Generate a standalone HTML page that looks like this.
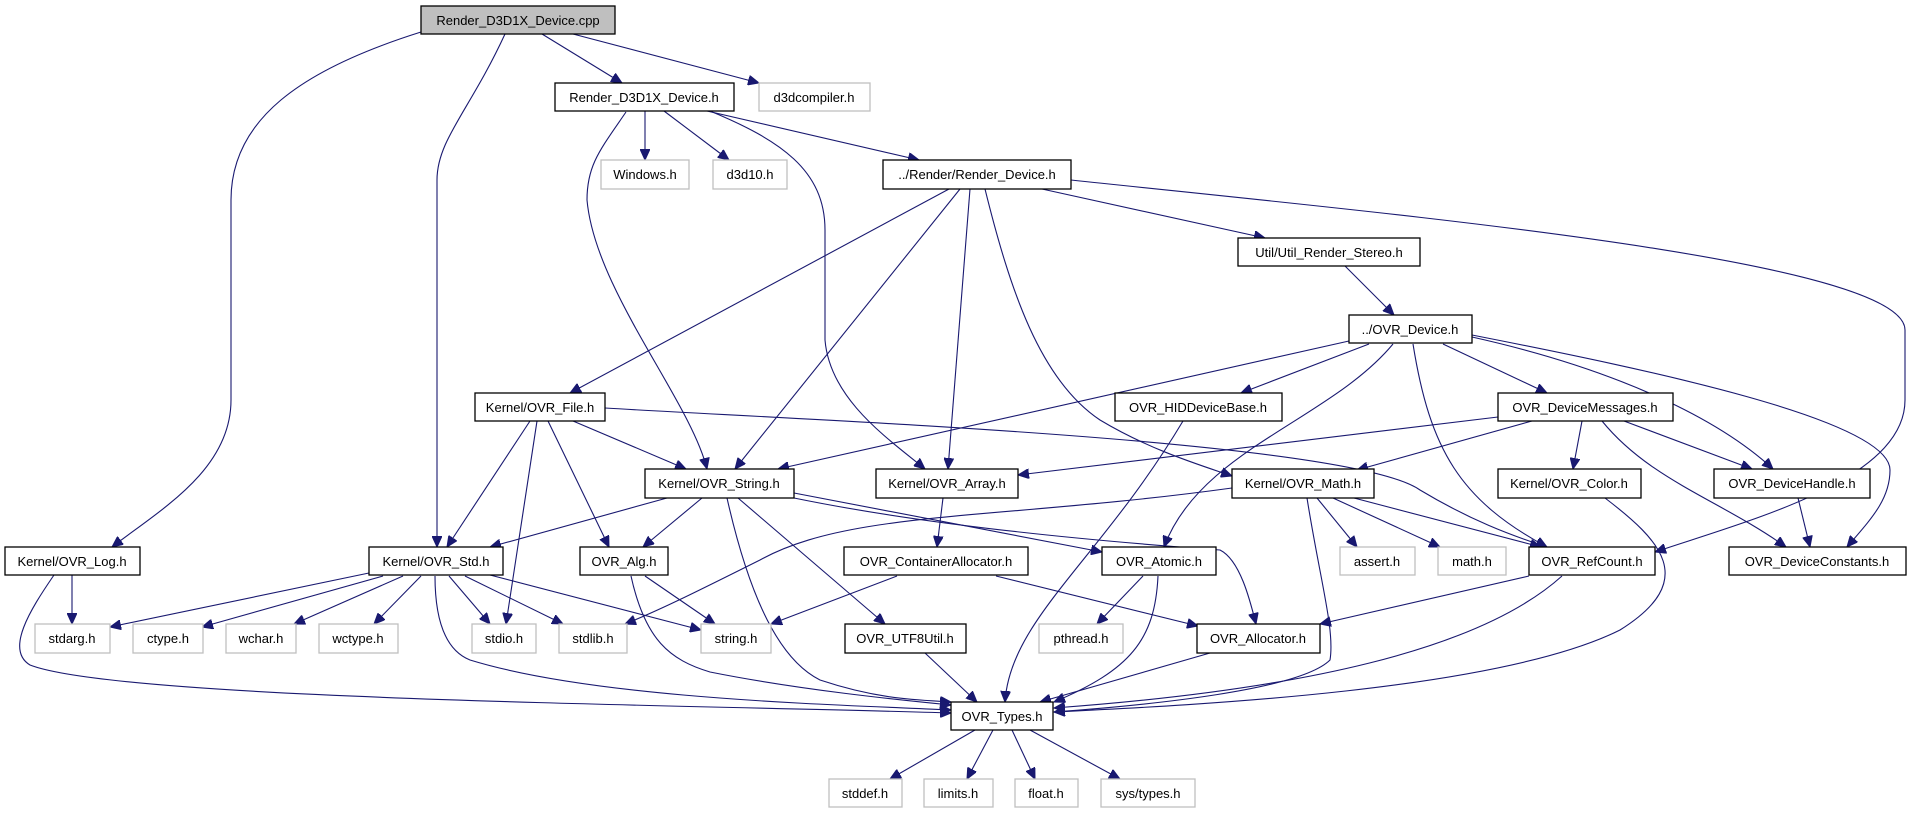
<!DOCTYPE html>
<html><head><meta charset="utf-8"><style>
html,body{margin:0;padding:0;background:#fff;}
svg{display:block;}
text{font-family:"Liberation Sans",sans-serif;font-size:13px;text-anchor:middle;fill:#000;}
.e{fill:none;stroke:#191970;stroke-width:1.1;marker-end:url(#a);}
.n{fill:#fff;stroke:#000;stroke-width:1.3;}
.g{fill:#fff;stroke:#bfbfbf;stroke-width:1.3;}
</style></head><body>
<svg width="1913" height="813" viewBox="0 0 1913 813" xmlns="http://www.w3.org/2000/svg">
<defs><marker id="a" markerUnits="userSpaceOnUse" markerWidth="12" markerHeight="10" refX="11" refY="5" orient="auto"><path d="M0,0 L11,5 L0,10 z" fill="#191970" stroke="#191970"/></marker></defs>
<g>
<path class="e" d="M421,32 C300,70 231,120 231,200 L231,400 C231,470 160,510 112,547"/>
<path class="e" d="M505,34 C470,110 437,140 437,180 L437,547"/>
<path class="e" d="M542,34 L622,83"/>
<path class="e" d="M573,34 L759,83"/>
<path class="e" d="M645,111 L645,160"/>
<path class="e" d="M664,111 L729,160"/>
<path class="e" d="M707,111 L919,160"/>
<path class="e" d="M626,112 C600,150 587,165 587,200 C595,290 690,400 707,469"/>
<path class="e" d="M710,111 C780,140 825,170 825,230 L825,340 C830,400 890,440 925,469"/>
<path class="e" d="M949,189 L570,393"/>
<path class="e" d="M960,189 L735,469"/>
<path class="e" d="M970,189 L948,469"/>
<path class="e" d="M985,189 C1010,290 1040,380 1100,420 C1150,450 1200,465 1232,476"/>
<path class="e" d="M1042,189 L1265,238"/>
<path class="e" d="M1071,180 C1400,215 1905,260 1905,330 L1905,400 C1905,480 1750,520 1655,552"/>
<path class="e" d="M1345,266 L1394,315"/>
<path class="e" d="M1349,341 L778,469"/>
<path class="e" d="M1369,344 L1241,393"/>
<path class="e" d="M1393,344 C1330,420 1200,450 1164,547"/>
<path class="e" d="M1413,344 C1430,450 1460,500 1547,547"/>
<path class="e" d="M1443,344 L1547,393"/>
<path class="e" d="M1472,337 C1620,370 1720,420 1773,469"/>
<path class="e" d="M1472,335 C1650,370 1890,420 1890,470 C1890,500 1870,520 1847,547"/>
<path class="e" d="M530,421 L447,547"/>
<path class="e" d="M537,421 L506,624"/>
<path class="e" d="M548,421 L609,547"/>
<path class="e" d="M573,421 L686,469"/>
<path class="e" d="M605,408 C800,420 1350,440 1420,490 C1470,520 1510,535 1547,547"/>
<path class="e" d="M1183,421 C1100,560 1010,620 1005,702"/>
<path class="e" d="M1498,417 L1018,475"/>
<path class="e" d="M1532,421 L1357,470"/>
<path class="e" d="M1582,421 L1573,469"/>
<path class="e" d="M1624,421 L1752,469"/>
<path class="e" d="M1602,421 C1650,480 1720,500 1786,547"/>
<path class="e" d="M667,498 L490,547"/>
<path class="e" d="M702,498 L643,547"/>
<path class="e" d="M727,498 C750,600 780,660 820,680 C880,700 920,700 951,702"/>
<path class="e" d="M738,498 L885,624"/>
<path class="e" d="M794,493 L1102,552"/>
<path class="e" d="M794,498 C950,530 1150,545 1220,550 C1240,560 1250,600 1256,624"/>
<path class="e" d="M943,498 L937,547"/>
<path class="e" d="M1232,488 C1000,520 850,510 760,560 C700,590 660,610 625,624"/>
<path class="e" d="M1317,498 L1357,547"/>
<path class="e" d="M1333,498 L1440,547"/>
<path class="e" d="M1354,498 L1541,547"/>
<path class="e" d="M1307,498 C1320,580 1335,630 1330,660 C1300,690 1150,705 1054,712"/>
<path class="e" d="M1605,498 C1660,540 1700,580 1620,630 C1500,690 1200,705 1054,712"/>
<path class="e" d="M1798,498 L1810,547"/>
<path class="e" d="M72,575 L72,624"/>
<path class="e" d="M54,575 C30,610 5,650 30,665 C120,700 700,705 951,713"/>
<path class="e" d="M369,573 L110,627"/>
<path class="e" d="M383,576 L202,627"/>
<path class="e" d="M403,576 L294,624"/>
<path class="e" d="M421,576 L374,624"/>
<path class="e" d="M449,576 L490,624"/>
<path class="e" d="M465,576 L563,624"/>
<path class="e" d="M490,575 L701,630"/>
<path class="e" d="M435,576 C435,620 445,650 470,660 C600,700 850,705 951,710"/>
<path class="e" d="M645,576 L715,624"/>
<path class="e" d="M631,576 C645,640 670,660 710,672 C800,690 900,700 951,705"/>
<path class="e" d="M897,576 L771,624"/>
<path class="e" d="M996,576 L1198,626"/>
<path class="e" d="M1143,576 L1097,624"/>
<path class="e" d="M1158,576 C1155,640 1130,670 1054,702"/>
<path class="e" d="M1529,576 L1320,624"/>
<path class="e" d="M1562,576 C1480,650 1300,690 1054,708"/>
<path class="e" d="M925,653 L977,702"/>
<path class="e" d="M1210,653 L1040,702"/>
<path class="e" d="M975,730 L890,779"/>
<path class="e" d="M993,730 L967,779"/>
<path class="e" d="M1012,730 L1035,779"/>
<path class="e" d="M1030,730 L1120,779"/>
</g>
<g>
<rect x="421" y="6" width="194" height="28" fill="#bfbfbf" stroke="#000" stroke-width="1.3"/><text x="518" y="25">Render_D3D1X_Device.cpp</text>
<rect class="n" x="555" y="83" width="179" height="28"/><text x="644" y="102">Render_D3D1X_Device.h</text>
<rect class="g" x="759" y="83" width="111" height="28"/><text x="814" y="102">d3dcompiler.h</text>
<rect class="g" x="601" y="160" width="88" height="29"/><text x="645" y="179">Windows.h</text>
<rect class="g" x="713" y="160" width="74" height="29"/><text x="750" y="179">d3d10.h</text>
<rect class="n" x="883" y="160" width="188" height="29"/><text x="977" y="179">../Render/Render_Device.h</text>
<rect class="n" x="1238" y="238" width="182" height="28"/><text x="1329" y="257">Util/Util_Render_Stereo.h</text>
<rect class="n" x="1349" y="315" width="123" height="28"/><text x="1410" y="334">../OVR_Device.h</text>
<rect class="n" x="475" y="393" width="130" height="28"/><text x="540" y="412">Kernel/OVR_File.h</text>
<rect class="n" x="1115" y="393" width="167" height="28"/><text x="1198" y="412">OVR_HIDDeviceBase.h</text>
<rect class="n" x="1498" y="393" width="175" height="28"/><text x="1585" y="412">OVR_DeviceMessages.h</text>
<rect class="n" x="645" y="469" width="149" height="29"/><text x="719" y="488">Kernel/OVR_String.h</text>
<rect class="n" x="876" y="469" width="142" height="29"/><text x="947" y="488">Kernel/OVR_Array.h</text>
<rect class="n" x="1232" y="469" width="142" height="29"/><text x="1303" y="488">Kernel/OVR_Math.h</text>
<rect class="n" x="1498" y="469" width="143" height="29"/><text x="1569" y="488">Kernel/OVR_Color.h</text>
<rect class="n" x="1714" y="469" width="156" height="29"/><text x="1792" y="488">OVR_DeviceHandle.h</text>
<rect class="n" x="5" y="547" width="135" height="28"/><text x="72" y="566">Kernel/OVR_Log.h</text>
<rect class="n" x="369" y="547" width="134" height="28"/><text x="436" y="566">Kernel/OVR_Std.h</text>
<rect class="n" x="580" y="547" width="88" height="28"/><text x="624" y="566">OVR_Alg.h</text>
<rect class="n" x="844" y="547" width="184" height="28"/><text x="936" y="566">OVR_ContainerAllocator.h</text>
<rect class="n" x="1102" y="547" width="114" height="28"/><text x="1159" y="566">OVR_Atomic.h</text>
<rect class="g" x="1340" y="547" width="75" height="28"/><text x="1377" y="566">assert.h</text>
<rect class="g" x="1438" y="547" width="68" height="28"/><text x="1472" y="566">math.h</text>
<rect class="n" x="1529" y="547" width="126" height="28"/><text x="1592" y="566">OVR_RefCount.h</text>
<rect class="n" x="1729" y="547" width="177" height="28"/><text x="1817" y="566">OVR_DeviceConstants.h</text>
<rect class="g" x="35" y="624" width="75" height="29"/><text x="72" y="643">stdarg.h</text>
<rect class="g" x="133" y="624" width="70" height="29"/><text x="168" y="643">ctype.h</text>
<rect class="g" x="226" y="624" width="70" height="29"/><text x="261" y="643">wchar.h</text>
<rect class="g" x="319" y="624" width="79" height="29"/><text x="358" y="643">wctype.h</text>
<rect class="g" x="472" y="624" width="64" height="29"/><text x="504" y="643">stdio.h</text>
<rect class="g" x="559" y="624" width="68" height="29"/><text x="593" y="643">stdlib.h</text>
<rect class="g" x="701" y="624" width="70" height="29"/><text x="736" y="643">string.h</text>
<rect class="n" x="845" y="624" width="121" height="29"/><text x="905" y="643">OVR_UTF8Util.h</text>
<rect class="g" x="1039" y="624" width="84" height="29"/><text x="1081" y="643">pthread.h</text>
<rect class="n" x="1197" y="624" width="123" height="29"/><text x="1258" y="643">OVR_Allocator.h</text>
<rect class="n" x="951" y="702" width="102" height="28"/><text x="1002" y="721">OVR_Types.h</text>
<rect class="g" x="829" y="779" width="73" height="28"/><text x="865" y="798">stddef.h</text>
<rect class="g" x="924" y="779" width="69" height="28"/><text x="958" y="798">limits.h</text>
<rect class="g" x="1015" y="779" width="63" height="28"/><text x="1046" y="798">float.h</text>
<rect class="g" x="1101" y="779" width="94" height="28"/><text x="1148" y="798">sys/types.h</text>
</g>
</svg>
</body></html>
